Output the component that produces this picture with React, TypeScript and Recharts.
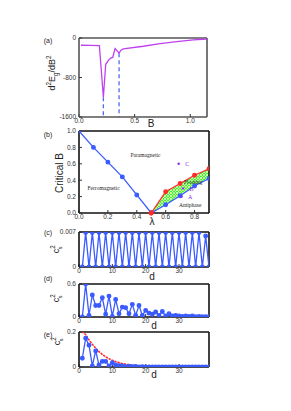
import React from "react";
import {
  Area,
  ComposedChart,
  LabelList,
  Line,
  ReferenceDot,
  ReferenceLine,
  Scatter,
  XAxis,
  YAxis,
} from "recharts";

// (a) second derivative of the gap energy vs B
const B_A = [0.018, 0.1, 0.183, 0.219, 0.24, 0.264, 0.285, 0.303, 0.324, 0.345, 0.36, 0.377, 0.398, 0.578, 0.728, 0.878, 1.027, 1.147];
const D2E = [-147, -150, -153, -1200, -533, -453, -407, -393, -213, -267, -307, -247, -220, -167, -113, -73, -40, -20];
const DASH_B = [0.219, 0.36];
const DASH_TOP = [-1200, -307];

// (b) phase diagram
const LAM_F = [0, 0.1, 0.2, 0.3, 0.4, 0.5];
const BC_F = [1, 0.8, 0.62, 0.44, 0.22, 0];
const LAM_R = [0.5, 0.6, 0.7, 0.8, 0.9];
const BC_UP = [0, 0.26, 0.36, 0.46, 0.54];
const BC_LO = [0, 0.1, 0.21, 0.33, 0.42];
const PT_NAME = ["A", "B", "C"];
const PT_X = [0.71, 0.72, 0.69];
const PT_Y = [0.2, 0.3, 0.6];
const PHASE = ["Paramagnetic", "Ferromagnetic", "Floating", "Antiphase"];
const PHASE_X = [0.46, 0.17, 0.79, 0.77];
const PHASE_Y = [0.71, 0.3, 0.38, 0.1];

// (c)-(e) correlations vs distance d
const D = [1, 2, 3, 4, 5, 6, 7, 8, 9, 10, 11, 12, 13, 14, 15, 16, 17, 18, 19, 20, 21, 22, 23, 24, 25, 26, 27, 28, 29, 30, 31, 32, 33, 34, 35, 36, 37, 38, 39];
const C_C = [0, 0.0069, 0, 0.0069, 0, 0.0069, 0, 0.0069, 0, 0.0069, 0, 0.0069, 0, 0.0069, 0, 0.0069, 0, 0.0069, 0, 0.0069, 0, 0.0069, 0, 0.0069, 0, 0.0069, 0, 0.0069, 0, 0.0069, 0, 0.0069, 0, 0.0069, 0, 0.0069, 0, 0.0062, 0];
const C_D = [0, 0.6, 0.03, 0.4, 0.21, 0.21, 0.35, 0.05, 0.38, 0.01, 0.32, 0.06, 0.18, 0.17, 0.06, 0.23, 0.03, 0.21, 0.03, 0.12, 0.07, 0.05, 0.09, 0.03, 0.1, 0.02, 0.06, 0.02, 0.03, 0.02, 0.01, 0.02, 0.01, 0.02, 0.005, 0.01, 0.005, 0.005, 0.005];
const C_E = [0.05, 0.165, 0.125, 0.006, 0.092, 0.012, 0.032, 0.032, 0.006, 0.025, 0.012, 0.008, 0.006, 0.002, 0.004, 0.002, 0.003, 0.001, 0.002, 0.001, 0.001, 0.001, 0.001, 0.001, 0.001, 0.001, 0.001, 0.001, 0.001, 0.001, 0.001, 0.001, 0.001, 0.001, 0.001, 0.001, 0.001, 0.001, 0.001];
const ENV_E = [0.2, 0.185, 0.155, 0.13, 0.107, 0.088, 0.072, 0.058, 0.047, 0.038, 0.031, 0.025, 0.02, 0.016, 0.013, 0.01, 0.008, 0.007, 0.005, 0.004, 0.003, 0.003, 0.002, 0.002, 0.001, 0.001, 0.001, 0.001, 0.001, 0.001, 0, 0, 0, 0, 0, 0, 0, 0, 0];

const BLUE = "#3a5bff";
const RED = "#ff2a2a";
const FONT = "'Liberation Sans', Arial, sans-serif";
const tick = { fontSize: 6.5, fill: "#333", fontFamily: FONT };

const xy = (xs: number[], ys: number[]) => xs.map((x, i) => ({ x, y: ys[i] }));

// top and right edges of the MATLAB-style box
function box(xd: number[], yd: number[], stroke: string) {
  return [
    <ReferenceLine key="bt" y={yd[1]} stroke={stroke} strokeWidth={1.6} ifOverflow="visible" />,
    <ReferenceLine key="br" x={xd[1]} stroke={stroke} strokeWidth={1.6} ifOverflow="visible" />,
  ];
}

function axes(xd: number[], xt: number[], yd: number[], yt: number[], stroke: string, xh: number, fx?: (v: number) => string, fy?: (v: number) => string) {
  const line = { stroke, strokeWidth: 1.6 };
  return [
    <XAxis key="x" dataKey="x" type="number" domain={xd} ticks={xt} interval={0} tickFormatter={fx} tick={tick} tickSize={-3} tickMargin={4.5} height={xh} axisLine={line} tickLine={{ stroke: "#333" }} allowDataOverflow />,
    <YAxis key="y" dataKey="y" type="number" domain={yd} ticks={yt} interval={0} tickFormatter={fy} tick={tick} tickSize={-3} tickMargin={6} width={79} axisLine={line} tickLine={{ stroke: "#333" }} allowDataOverflow />,
  ];
}

const f1 = (v: number) => v.toFixed(1);

function Txt({ x, y, size = 7, rot, children }: { x: number; y: number; size?: number; rot?: boolean; children: React.ReactNode }) {
  return (
    <div
      style={{
        position: "absolute",
        left: x,
        top: y,
        transform: `translate(-50%,-50%)${rot ? " rotate(-90deg)" : ""}`,
        fontFamily: FONT,
        fontSize: size,
        lineHeight: 1,
        whiteSpace: "nowrap",
        color: "#222",
      }}
    >
      {children}
    </div>
  );
}

const cs2 = (
  <span>
    c<sup style={{ fontSize: "0.7em" }}>2</sup>
    <sub style={{ fontSize: "0.6em", marginLeft: -4 }}>s</sub>
  </span>
);

export default function App() {
  const dataA = xy(B_A, D2E);
  const dashes = DASH_B.map((b, i) => [
    { x: b, y: DASH_TOP[i] },
    { x: b, y: -1600 },
  ]);
  const band = LAM_R.map((x, i) => ({ x, band: [BC_LO[i], BC_UP[i]] }));
  const pts = PT_NAME.map((name, i) => ({ x: PT_X[i], y: PT_Y[i], name }));
  const dotB = { r: 1.8, fill: BLUE, stroke: BLUE };
  const dotR = { r: 1.8, fill: RED, stroke: RED };
  const xD = [0, 39];
  const tD = [0, 10, 20, 30];

  return (
    <div style={{ position: "absolute", left: 0, top: 0, width: 291, height: 411, background: "#fff" }}>
      {/* (a) */}
      <div style={{ position: "absolute", left: 0, top: 30 }}>
        <ComposedChart width={291} height={101} margin={{ top: 8, right: 84, bottom: 0, left: 0 }}>
          {axes([0, 1.15], [0, 0.5, 1], [-1600, 0], [-1600, -800, 0], "#555", 14, f1)}
          {box([0, 1.15], [-1600, 0], "#555")}
          {dashes.map((d, i) => (
            <Line key={i} data={d} dataKey="y" stroke="#4a6cf0" strokeWidth={1.3} strokeDasharray="4 3" dot={false} isAnimationActive={false} />
          ))}
          <Line data={dataA} dataKey="y" stroke="#c040f0" strokeWidth={1.3} dot={false} isAnimationActive={false} />
        </ComposedChart>
      </div>

      {/* (b) */}
      <div style={{ position: "absolute", left: 0, top: 124 }}>
        <ComposedChart width={291} height={101} margin={{ top: 7, right: 82, bottom: 0, left: 0 }}>
          <defs>
            <pattern id="hatch" width="3" height="3" patternUnits="userSpaceOnUse">
              <rect width="3" height="3" fill="#4cf02a" />
              <path d="M0,0 L3,3 M3,0 L0,3" stroke="#eaffe0" strokeWidth="0.7" />
            </pattern>
          </defs>
          {axes([0, 0.9], [0, 0.2, 0.4, 0.6, 0.8], [0, 1], [0, 0.2, 0.4, 0.6, 0.8, 1], "#111", 12, f1, f1)}
          {box([0, 0.9], [0, 1], "#111")}
          <Area data={band} dataKey="band" fill="url(#hatch)" fillOpacity={1} stroke="none" isAnimationActive={false} />
          <Line data={xy(LAM_R, BC_LO)} dataKey="y" stroke={BLUE} strokeWidth={1.3} dot={dotB} isAnimationActive={false} />
          <Line data={xy(LAM_R, BC_UP)} dataKey="y" stroke={RED} strokeWidth={1.3} dot={dotR} isAnimationActive={false} />
          <Line data={xy(LAM_F, BC_F)} dataKey="y" stroke={BLUE} strokeWidth={1.3} dot={dotB} isAnimationActive={false} />
          <Scatter data={pts} fill="#8a2be2" shape={(p: any) => <circle cx={p.cx} cy={p.cy} r={1.2} fill="#8a2be2" />} isAnimationActive={false}>
            <LabelList dataKey="name" position="right" offset={2} style={{ fontSize: 6, fill: "#8a2be2", fontFamily: "'Liberation Serif', serif" }} />
          </Scatter>
          {PHASE.map((p, i) => (
            <ReferenceDot
              key={p}
              x={PHASE_X[i]}
              y={PHASE_Y[i]}
              r={0}
              stroke="none"
              label={{ value: p, position: "center", fontSize: 5.5, fill: "#222", fontFamily: "'Liberation Serif', serif" }}
            />
          ))}
          <ReferenceDot x={0.5} y={0} r={2.2} fill={RED} stroke={RED} ifOverflow="visible" />
        </ComposedChart>
      </div>

      {/* (c) */}
      <div style={{ position: "absolute", left: 0, top: 226 }}>
        <ComposedChart width={291} height={51} margin={{ top: 6, right: 82, bottom: 0, left: 0 }}>
          {axes(xD, tD, [0, 0.007], [0, 0.007], "#111", 10)}
          {box(xD, [0, 0.007], "#111")}
          <Line data={xy(D, C_C)} dataKey="y" stroke={BLUE} strokeWidth={1.3} dot={dotB} isAnimationActive={false} />
        </ComposedChart>
      </div>

      {/* (d) */}
      <div style={{ position: "absolute", left: 0, top: 280 }}>
        <ComposedChart width={291} height={47} margin={{ top: 4, right: 82, bottom: 0, left: 0 }}>
          {axes(xD, tD, [0, 0.6], [0, 0.6], "#111", 10)}
          {box(xD, [0, 0.6], "#111")}
          <Line data={xy(D, C_D)} dataKey="y" stroke={BLUE} strokeWidth={1.3} dot={dotB} isAnimationActive={false} />
        </ComposedChart>
      </div>

      {/* (e) */}
      <div style={{ position: "absolute", left: 0, top: 327 }}>
        <ComposedChart width={291} height={50} margin={{ top: 5, right: 82, bottom: 0, left: 0 }}>
          {axes(xD, tD, [0, 0.2], [0, 0.2], "#111", 10)}
          {box(xD, [0, 0.2], "#111")}
          <Line data={xy(D, C_E)} dataKey="y" stroke={BLUE} strokeWidth={1.3} dot={dotB} isAnimationActive={false} />
          <Line data={xy(D, ENV_E)} dataKey="y" stroke={RED} strokeWidth={1.6} strokeDasharray="1 2.2" strokeLinecap="round" dot={false} isAnimationActive={false} />
        </ComposedChart>
      </div>

      <Txt x={48} y={40}>(a)</Txt>
      <Txt x={48} y={134}>(b)</Txt>
      <Txt x={48} y={232}>(c)</Txt>
      <Txt x={48} y={278}>(d)</Txt>
      <Txt x={48} y={334}>(e)</Txt>

      <Txt x={151} y={124} size={10}>B</Txt>
      <Txt x={152} y={222} size={10}>λ</Txt>
      <Txt x={152} y={277} size={10}>d</Txt>
      <Txt x={154} y={326} size={10}>d</Txt>
      <Txt x={154} y={375} size={10}>d</Txt>

      <Txt x={53} y={73} size={9} rot>
        d<sup style={{ fontSize: "0.7em" }}>2</sup>E<sub style={{ fontSize: "0.7em" }}>g</sub>/dB<sup style={{ fontSize: "0.7em" }}>2</sup>
      </Txt>
      <Txt x={60} y={173} size={10} rot>Critical B</Txt>
      <Txt x={57} y={250} size={9} rot>{cs2}</Txt>
      <Txt x={57} y={299} size={9} rot>{cs2}</Txt>
      <Txt x={58} y={342} size={9} rot>{cs2}</Txt>
    </div>
  );
}
